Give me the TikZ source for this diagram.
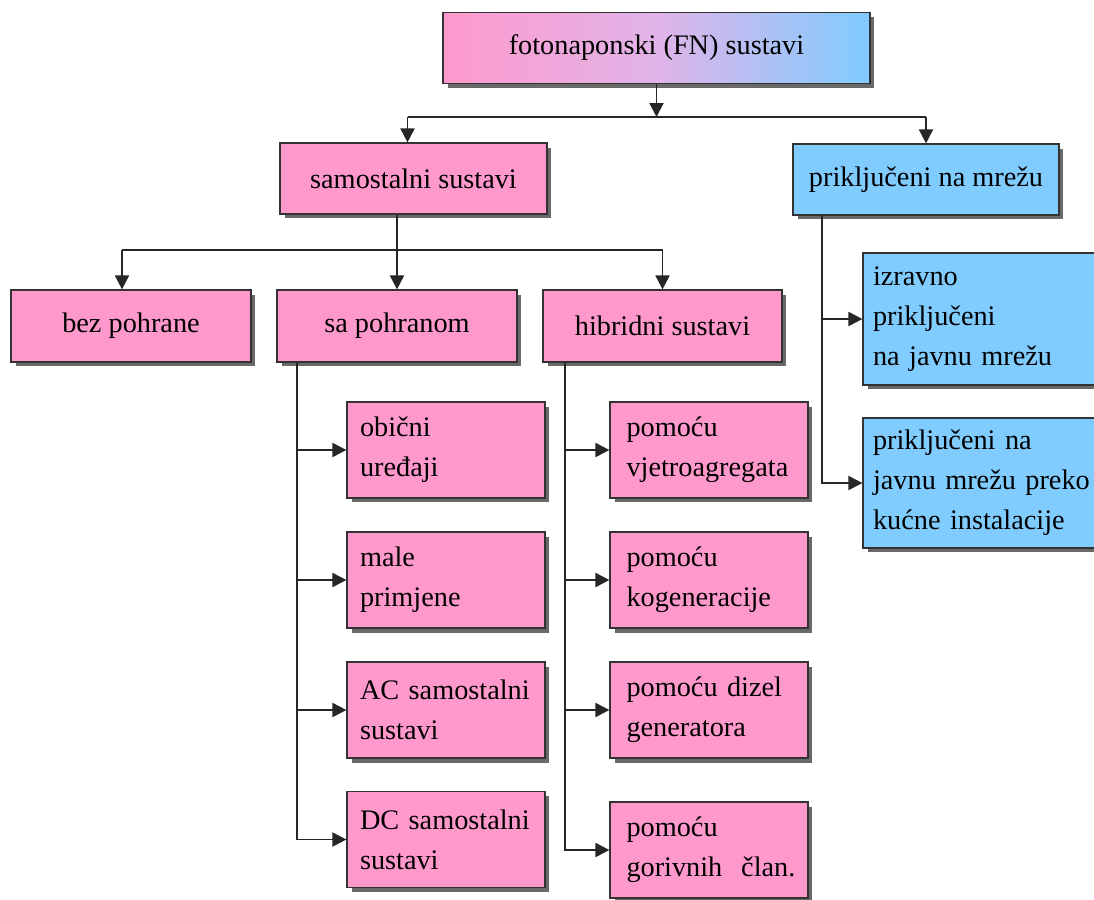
\documentclass[tikz,border=0pt]{standalone}
\usepackage{fontspec}
\setmainfont{Liberation Serif}
\usetikzlibrary{arrows.meta,positioning,shadows}
\definecolor{pinkfill}{RGB}{255,153,204}
\definecolor{bluefill}{RGB}{128,204,255}
\definecolor{lavfill}{RGB}{224,180,232}

\tikzset{
    box/.style={draw=black!80, line width=0.7pt, inner sep=0pt, minimum height=1.42cm,
        font=\fontsize{16.1}{22.8}\selectfont,
        drop shadow={shadow xshift=0.09cm, shadow yshift=-0.09cm, fill=black!65, opacity=0.9}},
    pinkbox/.style={box, fill=pinkfill},
    bluebox/.style={box, fill=bluefill},
    salist/.style={pinkbox, align=left, text width=3.44cm, inner xsep=0.26cm, minimum height=1.92cm},
    hiblist/.style={pinkbox, align=left, text width=3.3cm, inner xsep=0.33cm, minimum height=1.92cm},
    mrezalist/.style={bluebox, align=left, text width=4.54cm, inner xsep=0.2cm},
    link/.style={line width=1.1pt, draw=black!85},
    conn/.style={link, -{Triangle[length=0.28cm, width=0.28cm]}}
}

\begin{document}
\begin{tikzpicture}[x=0.02cm, y=-0.02cm]

    \useasboundingbox (0,0) rectangle (1094,899);
    \clip (0,0) rectangle (1094,899);

    % ---------------- Top level ----------------
    \node[box, minimum width=8.54cm, left color=pinkfill, right color=bluefill, middle color=lavfill]
        (fn) at (656.5,48) {fotonaponski (FN) sustavi};

    \node[pinkbox, minimum width=5.34cm] (samo) at (413.5,178.5) {samostalni sustavi};
    \node[bluebox, minimum width=5.32cm] (mreza) at (926,179.5) {priključeni na mrežu};

    % ---------------- Second level ----------------
    \node[pinkbox, minimum width=4.8cm, minimum height=1.44cm] (bez) at (131,326) {bez pohrane};
    \node[pinkbox, minimum width=4.8cm, minimum height=1.44cm] (sapoh) at (397,326) {sa pohranom};
    \node[pinkbox, minimum width=4.78cm, minimum height=1.44cm] (hibr) at (662.5,326) {hibridni sustavi};

    % ---------------- Leaves ----------------
    \foreach \name/\y/\txt in {obicni/450/{obični\\uređaji}, male/580/{male\\primjene},
        acsam/710/{AC samostalni\\sustavi}, dcsam/839.5/{DC samostalni\\sustavi}}
        \node[salist] (\name) at (446,\y) {\txt};

    \foreach \name/\y/\txt in {vjetro/450/{pomoću\\vjetroagregata}, kogen/580/{pomoću\\kogeneracije},
        dizel/710/{pomoću dizel\\generatora}, gorivo/850/{pomoću\\\mbox{gorivnih\ \ član.}}}
        \node[hiblist] (\name) at (709,\y) {\txt};

    \node[mrezalist, minimum height=2.64cm] (izravno) at (986.5,319) {izravno\\priključeni\\na javnu mrežu};
    \node[mrezalist, minimum height=2.6cm] (kucne) at (986.5,483) {priključeni na\\javnu mrežu preko\\kućne instalacije};

    % ---------------- Branches ----------------
    \coordinate (bus1) at (656.5,117);
    \draw[conn] (fn.south) -- (bus1);
    \draw[link] ([xshift=-0.12cm]bus1 -| samo.north) -- (bus1 -| mreza.north);
    \draw[conn] ([xshift=-0.12cm]bus1 -| samo.north) -- ([xshift=-0.12cm]samo.north);
    \draw[conn] (bus1 -| mreza.north) -- (mreza.north);

    \coordinate (bus2) at (397,250);
    \draw[conn] (samo.south -| sapoh.north) -- (sapoh.north);
    \draw[link] ([xshift=-0.18cm]bus2 -| bez.north) -- (bus2 -| hibr.north);
    \draw[conn] ([xshift=-0.18cm]bus2 -| bez.north) -- ([xshift=-0.18cm]bez.north);
    \draw[conn] (bus2 -| hibr.north) -- (hibr.north);

    % ---------------- Spines ----------------
    \coordinate (spA) at ([xshift=0.42cm]sapoh.south west);
    \foreach \n in {obicni,male,acsam}
        \draw[conn] (spA |- \n.west) -- (\n.west);
    \draw[conn] (spA) |- (dcsam.west);

    \coordinate (spB) at ([xshift=0.46cm]hibr.south west);
    \foreach \n in {vjetro,kogen,dizel}
        \draw[conn] (spB |- \n.west) -- (\n.west);
    \draw[conn] (spB) |- (gorivo.west);

    \coordinate (spC) at ([xshift=0.6cm]mreza.south west);
    \draw[conn] (spC |- izravno.west) -- (izravno.west);
    \draw[conn] (spC) |- (kucne.west);

\end{tikzpicture}
\end{document}
